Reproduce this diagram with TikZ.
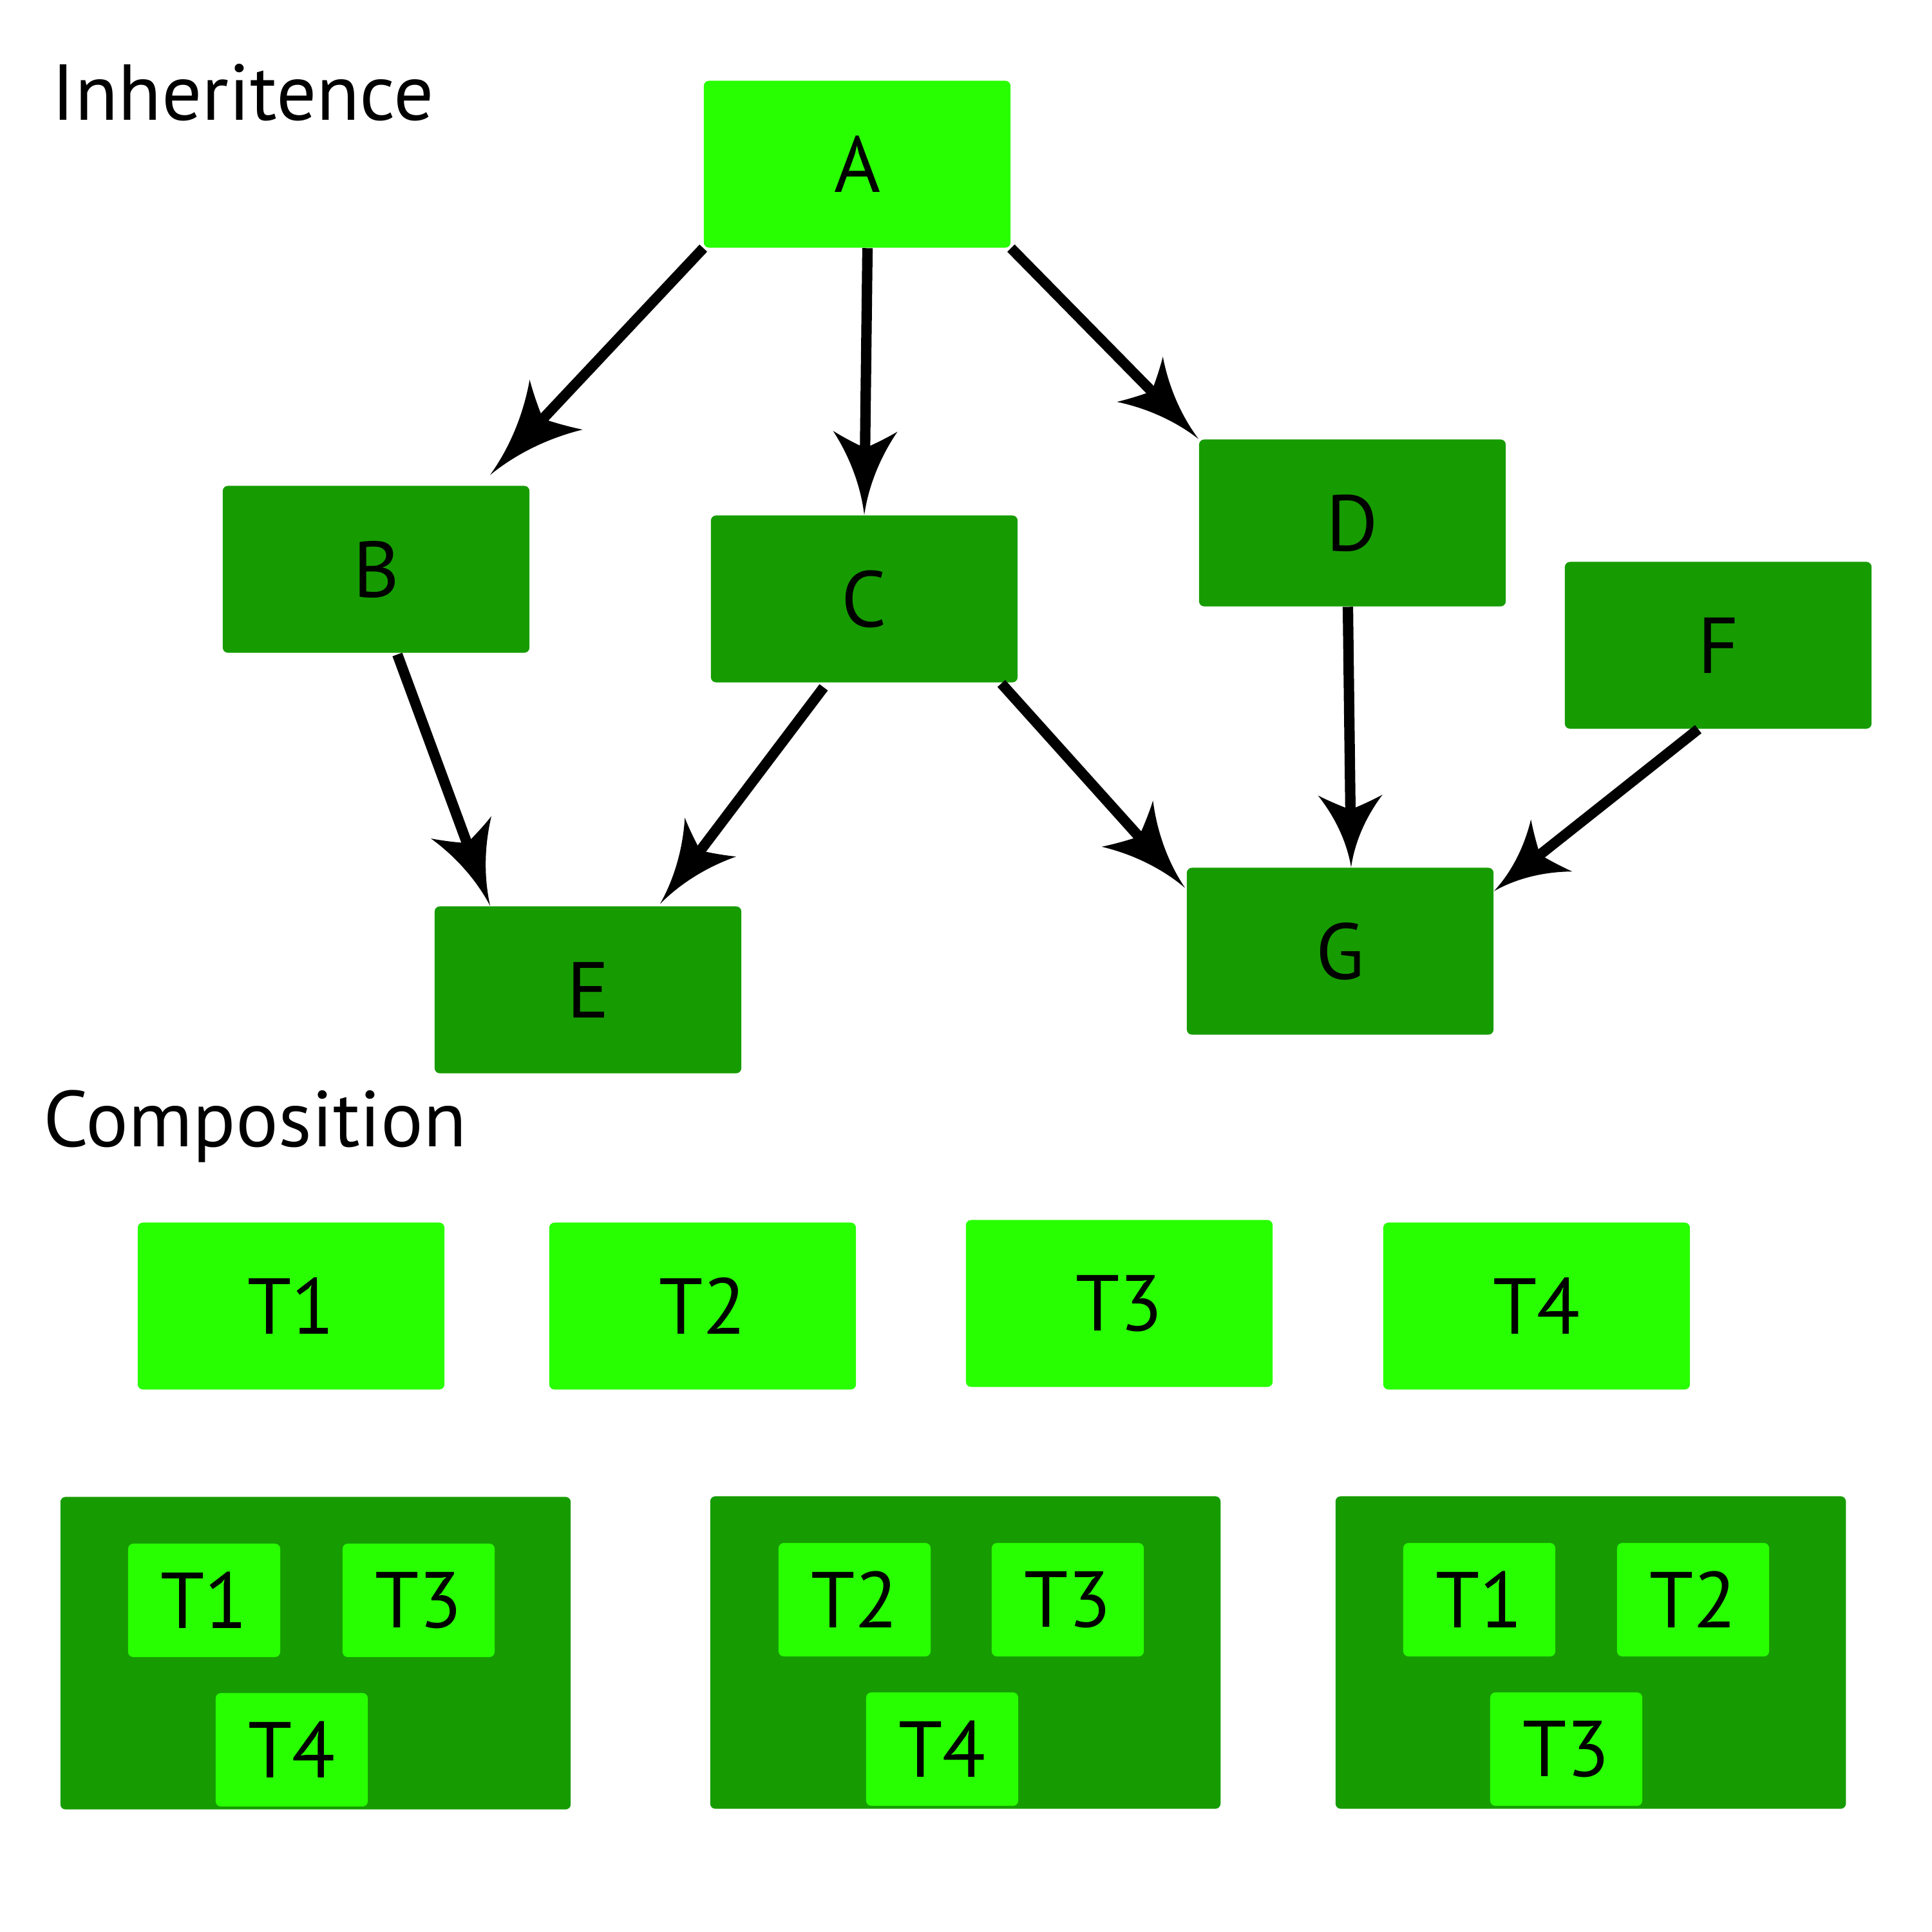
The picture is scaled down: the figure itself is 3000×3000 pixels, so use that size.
\documentclass[tikz,border=0pt]{standalone}
\usepackage{fontspec}
\setmainfont{PT Sans}
\usepackage{xcolor}
\usetikzlibrary{arrows.meta}
\usetikzlibrary{calc}

\definecolor{lightgr}{HTML}{28FF00}
\definecolor{darkgr}{HTML}{169C00}

% swept barbed head
\pgfdeclarearrow{
  name=Swoop,
  parameters={\the\pgfarrowlength,\the\pgfarrowwidth},
  setup code={
    \pgfarrowssettipend{0pt}
    \pgfarrowssetlineend{-.75\pgfarrowlength}
    \pgfarrowssetbackend{-\pgfarrowlength}
    \pgfarrowssavethe\pgfarrowlength
    \pgfarrowssavethe\pgfarrowwidth
  },
  drawing code={
    \pgfpathmoveto{\pgfpointorigin}
    \pgfpathcurveto{\pgfpoint{-.35\pgfarrowlength}{.06\pgfarrowwidth}}{\pgfpoint{-.7\pgfarrowlength}{.24\pgfarrowwidth}}{\pgfpoint{-\pgfarrowlength}{.5\pgfarrowwidth}}
    \pgfpathcurveto{\pgfpoint{-.93\pgfarrowlength}{.35\pgfarrowwidth}}{\pgfpoint{-.85\pgfarrowlength}{.15\pgfarrowwidth}}{\pgfpoint{-.8\pgfarrowlength}{0pt}}
    \pgfpathcurveto{\pgfpoint{-.85\pgfarrowlength}{-.15\pgfarrowwidth}}{\pgfpoint{-.93\pgfarrowlength}{-.35\pgfarrowwidth}}{\pgfpoint{-\pgfarrowlength}{-.5\pgfarrowwidth}}
    \pgfpathcurveto{\pgfpoint{-.7\pgfarrowlength}{-.24\pgfarrowwidth}}{\pgfpoint{-.35\pgfarrowlength}{-.06\pgfarrowwidth}}{\pgfpointorigin}
    \pgfpathclose
    \pgfusepathqfill
  },
  defaults={length=1.3cm,width=1cm}
}

\begin{document}
\begin{tikzpicture}[x=0.01cm,y=-0.01cm,
        every node/.style={font=\fontsize{35}{42}\selectfont},
        cls/.style={fill=darkgr,rounded corners=0.08cm,inner sep=0,minimum width=4.76cm,minimum height=2.59cm},
        base/.style={cls,fill=lightgr},
        holder/.style={fill=darkgr,rounded corners=0.08cm,inner sep=0,minimum width=7.92cm,minimum height=4.85cm},
        part/.style={fill=lightgr,rounded corners=0.08cm,inner sep=0,minimum width=2.36cm,minimum height=1.76cm},
        inh/.style={-{Swoop},line width=4.6pt}]
        \useasboundingbox (0,0) rectangle (3000,3000);

        \node[anchor=base west,inner sep=0] (head1) at (80,186) {Inheritence};
        \node[anchor=base west,inner sep=0] (head2) at (67,1780) {Composition};

        \node[base] (A) at (1331,255) {A};
        \node[cls] (B) at (584,884) {B};
        \node[cls] (C) at (1342,930) {C};
        \node[cls] (D) at (2100,812) {D};
        \node[cls] (F) at (2668,1002) {F};
        \node[cls] (E) at (913,1537) {E};
        \node[cls] (G) at (2081,1477) {G};

        \draw[inh,-{Swoop[length=1.5cm,width=1.13cm]}] (A.south west) -- ($(B.north east)+(-62,-16)$);
        \draw[inh] ($(A.south)+(16,0)$) -- (C.north);
        \draw[inh] (A.south east) -- (D.north west);
        \draw[inh] ($(B.south)+(33,2)$) -- ($(E.north west)+(87,0)$);
        \draw[inh] ($(C.south)+(-63,7)$) -- ($(E.north east)+(-127,-3)$);
        \draw[inh,-{Swoop[length=1.34cm,width=1.07cm]}] ($(C.south east)+(-26,1)$) -- ($(G.north west)+(-2,32)$);
        \draw[inh,-{Swoop[length=1.12cm]}] ($(D.south)+(-7,0)$) -- ($(G.north)+(17,0)$);
        \draw[inh,-{Swoop[length=1.14cm,width=1.03cm]}] ($(F.south)+(-31,0)$) -- ($(G.north east)+(0,37)$);

        \node[base] (T1) at (452,2028) {T1};
        \node[base] (T2) at (1091,2028) {T2};
        \node[base] (T3) at (1738,2024) {T3};
        \node[base] (T4) at (2386,2028) {T4};

        \node[holder] (K1) at (490,2567) {};
        \node[part] (K1a) at ($(K1)+(-173,-82)$) {T1};
        \node[part] (K1b) at ($(K1)+(160,-82)$) {T3};
        \node[part] (K1c) at ($(K1)+(-37,150)$) {T4};

        \node[holder] (K2) at (1499,2566) {};
        \node[part] (K2a) at ($(K2)+(-172,-82)$) {T2};
        \node[part] (K2b) at ($(K2)+(159,-82)$) {T3};
        \node[part] (K2c) at ($(K2)+(-36,150)$) {T4};

        \node[holder] (K3) at (2470,2566) {};
        \node[part] (K3a) at ($(K3)+(-173,-82)$) {T1};
        \node[part] (K3b) at ($(K3)+(159,-82)$) {T2};
        \node[part] (K3c) at ($(K3)+(-38,150)$) {T3};
\end{tikzpicture}
\end{document}
